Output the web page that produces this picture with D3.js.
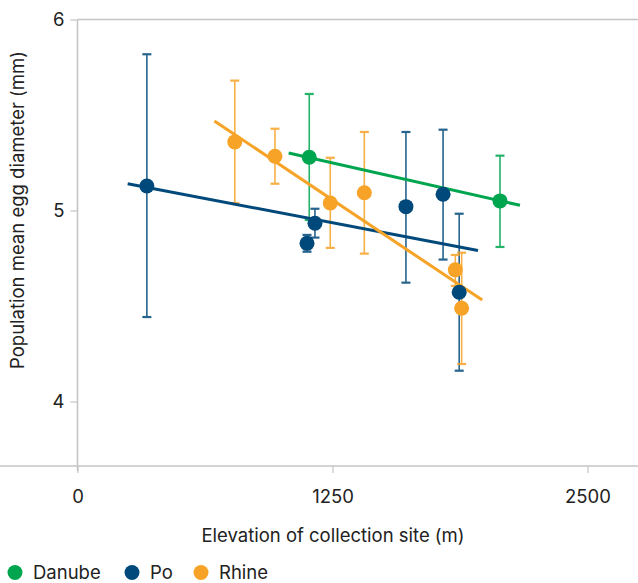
<!DOCTYPE html>
<html><head><meta charset="utf-8">
<script src="https://cdn.jsdelivr.net/npm/d3@7"></script>
<style>body{margin:0;background:#fff}svg{display:block;font-family:Inter,"Open Sans",sans-serif}</style>
</head><body><svg id="c" width="638" height="583"></svg>
<script>
const seriesNames = ["Danube", "Po", "Rhine"];
const seriesColors = ["#00a54f", "#00497a", "#f6a327"];
// points: elevation, mean, upper, lower
const danubeX = [1136, 2071];
const danubeY = [5.279, 5.050];
const danubeHi = [5.610, 5.287];
const danubeLo = [4.950, 4.809];
const poX = [340, 1125, 1164, 1610, 1792, 1871];
const poY = [5.128, 4.828, 4.933, 5.020, 5.085, 4.572];
const poHi = [5.818, 4.872, 5.009, 5.411, 5.423, 4.983];
const poLo = [4.442, 4.784, 4.858, 4.622, 4.743, 4.161];
const rhineX = [771, 968, 1239, 1406, 1852, 1883];
const rhineY = [5.359, 5.284, 5.039, 5.093, 4.689, 4.488];
const rhineHi = [5.680, 5.428, 5.276, 5.411, 4.767, 4.779];
const rhineLo = [5.039, 5.140, 4.804, 4.774, 4.605, 4.196];
// trend lines: [x0, y0, x1, y1]
const danubeTrend = [1035, 5.301, 2169, 5.027];
const poTrend = [246, 5.140, 1963, 4.790];
const rhineTrend = [671, 5.469, 1984, 4.531];
const xTicks = [0, 1250, 2500];
const yTicks = [4, 5, 6];

const FS = 18.5;
const svg = d3.select("#c");
const x = d3.scaleLinear().domain([0, 2750]).range([77.5, 638.5]);
const y = d3.scaleLinear().domain([3.662, 6]).range([466, 19.5]);
const grey = "#c4c4c4";

svg.append("line").attr("x1", 77.5).attr("x2", 638).attr("y1", 19.5).attr("y2", 19.5).attr("stroke", grey).attr("stroke-width", 1.5);
const xa = svg.append("g").attr("transform", "translate(0,466)")
  .call(d3.axisBottom(x).tickValues(xTicks).tickSize(7).tickPadding(17).tickFormat(d3.format("d")));
const ya = svg.append("g").attr("transform", "translate(77.5,0)")
  .call(d3.axisLeft(y).tickValues(yTicks).tickSize(7).tickPadding(6).tickFormat(d3.format("d")));
[xa, ya].forEach(a => {
  a.select(".domain").attr("stroke", grey).attr("stroke-width", 1.5);
  a.selectAll(".tick line").attr("stroke", grey).attr("stroke-width", 1.2);
  a.selectAll("text").attr("fill", "#222").attr("font-size", FS).attr("font-family", "Inter, 'Open Sans', sans-serif");
});
ya.select(".domain").attr("d", "M0,19.5V471");
xa.select(".domain").attr("d", "M0,0H638");
ya.selectAll(".tick text").attr("dy", "0.35em");

svg.append("text").attr("x", 333).attr("y", 542).attr("text-anchor", "middle")
  .attr("font-size", FS).attr("fill", "#222").text("Elevation of collection site (m)");
svg.append("text").attr("transform", "translate(24,210) rotate(-90)").attr("text-anchor", "middle")
  .attr("font-size", FS).attr("fill", "#222").text("Population mean egg diameter (mm)");

const series = [
  {x: danubeX, y: danubeY, hi: danubeHi, lo: danubeLo, t: danubeTrend},
  {x: poX, y: poY, hi: poHi, lo: poLo, t: poTrend},
  {x: rhineX, y: rhineY, hi: rhineHi, lo: rhineLo, t: rhineTrend}
];
const order = [0, 1, 2];
order.forEach(i => {
  const s = series[i], col = seriesColors[i];
  const g = svg.append("g").attr("opacity", 0.85);
  s.x.forEach((xv, j) => {
    g.append("line").attr("x1", x(xv)).attr("x2", x(xv)).attr("y1", y(s.hi[j])).attr("y2", y(s.lo[j]))
      .attr("stroke", col).attr("stroke-width", 1.6);
    [s.hi[j], s.lo[j]].forEach(v => g.append("line").attr("x1", x(xv) - 4.5).attr("x2", x(xv) + 4.5)
      .attr("y1", y(v)).attr("y2", y(v)).attr("stroke", col).attr("stroke-width", 2.2));
  });
});
order.forEach(i => {
  const s = series[i], col = seriesColors[i];
  svg.append("line").attr("x1", x(s.t[0])).attr("y1", y(s.t[1])).attr("x2", x(s.t[2])).attr("y2", y(s.t[3]))
    .attr("stroke", col).attr("stroke-width", 3);
});
order.forEach(i => {
  const s = series[i], col = seriesColors[i];
  s.x.forEach((xv, j) => svg.append("circle").attr("cx", x(xv)).attr("cy", y(s.y[j])).attr("r", 7.5).attr("fill", col));
});

const legX = [15, 132, 201];
seriesNames.forEach((n, i) => {
  svg.append("circle").attr("cx", legX[i]).attr("cy", 572.5).attr("r", 7.5).attr("fill", seriesColors[i]);
  svg.append("text").attr("x", legX[i] + 18).attr("y", 572.5).attr("dy", "0.35em").attr("font-size", FS)
    .attr("fill", "#222").text(n);
});
</script></body></html>
